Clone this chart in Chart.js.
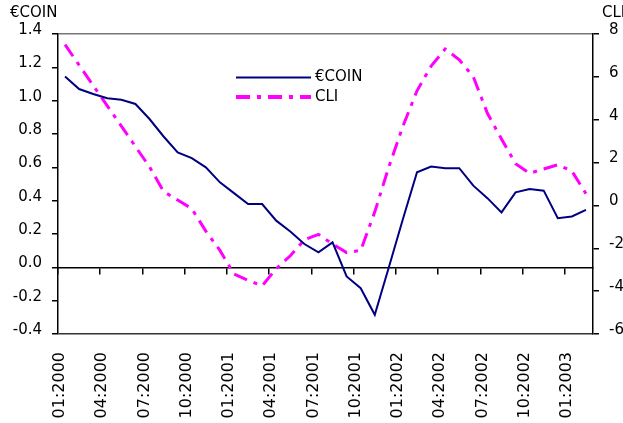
<!DOCTYPE html>
<html>
<head>
<meta charset="utf-8">
<script src="https://cdn.jsdelivr.net/npm/chart.js@4/dist/chart.umd.min.js"></script>
<style>
  body { margin: 0; background: #fff; }
  #wrap { position: relative; width: 623px; height: 423px; }
</style>
</head>
<body>
<div id="wrap"><canvas id="chart"></canvas></div>
<script>
// monthly categories, Jan 2000 - Feb 2003
const months = [
  "01:2000", "02:2000", "03:2000", "04:2000", "05:2000", "06:2000",
  "07:2000", "08:2000", "09:2000", "10:2000", "11:2000", "12:2000",
  "01:2001", "02:2001", "03:2001", "04:2001", "05:2001", "06:2001",
  "07:2001", "08:2001", "09:2001", "10:2001", "11:2001", "12:2001",
  "01:2002", "02:2002", "03:2002", "04:2002", "05:2002", "06:2002",
  "07:2002", "08:2002", "09:2002", "10:2002", "11:2002", "12:2002",
  "01:2003", "02:2003"
];

// €COIN, left axis
const coin = [
  1.145, 1.07, 1.04, 1.015, 1.005, 0.98, 0.89, 0.785, 0.69, 0.655,
  0.6, 0.51, 0.445, 0.38, 0.38, 0.28, 0.215, 0.14, 0.09, 0.15,
  -0.055, -0.125, -0.285, 0.0, 0.29, 0.57, 0.605, 0.595, 0.595, 0.49,
  0.415, 0.33, 0.45, 0.47, 0.46, 0.295, 0.305, 0.345
];

// CLI, right axis
const cli = [
  7.5, 6.55, 5.6, 4.65, 3.7, 2.75, 1.8, 0.65, 0.25, -0.15,
  -1.2, -2.1, -3.2, -3.5, -3.75, -2.95, -2.35, -1.6, -1.35, -1.8,
  -2.2, -2.1, -0.3, 1.8, 3.7, 5.35, 6.5, 7.3, 6.8, 6.0,
  4.3, 3.1, 1.95, 1.5, 1.7, 1.9, 1.6, 0.55
];

const FONT = "'DejaVu Sans', Verdana, sans-serif";
const NAVY = "#000080";
const MAGENTA = "#ff00ff";
const CLI_DASH = [14, 7, 4, 7];

// axis titles + legend drawn inside the plot
const decorations = {
  id: "decorations",
  afterDraw(chart) {
    const ctx = chart.ctx;
    ctx.save();
    ctx.fillStyle = "#000";
    ctx.font = "15px " + FONT;
    ctx.textBaseline = "alphabetic";
    ctx.textAlign = "left";
    ctx.fillText("€COIN", 10, 17);
    ctx.fillText("CLI", 602, 17);

    // legend
    ctx.lineCap = "butt";
    ctx.strokeStyle = NAVY;
    ctx.lineWidth = 2;
    ctx.beginPath();
    ctx.moveTo(236, 77.5);
    ctx.lineTo(311, 77.5);
    ctx.stroke();

    ctx.strokeStyle = MAGENTA;
    ctx.lineWidth = 4;
    ctx.setLineDash(CLI_DASH);
    ctx.beginPath();
    ctx.moveTo(236, 97);
    ctx.lineTo(311, 97);
    ctx.stroke();
    ctx.setLineDash([]);

    ctx.textBaseline = "middle";
    ctx.fillText("€COIN", 315, 77);
    ctx.fillText("CLI", 315, 97);
    ctx.restore();
  }
};

new Chart(document.getElementById("chart"), {
  type: "line",
  data: {
    labels: months,
    datasets: [
      {
        label: "€COIN",
        data: coin,
        yAxisID: "y",
        borderColor: NAVY,
        borderWidth: 2,
        pointRadius: 0,
        tension: 0,
      },
      {
        label: "CLI",
        data: cli,
        yAxisID: "y1",
        borderColor: MAGENTA,
        borderWidth: 3,
        borderDash: CLI_DASH,
        pointRadius: 0,
        tension: 0,
      },
    ],
  },
  options: {
    responsive: true,
    maintainAspectRatio: false,
    animation: false,
    layout: { padding: { top: 34, left: 0, right: 0, bottom: 0 } },
    plugins: {
      legend: { display: false },
      tooltip: { enabled: false },
    },
    scales: {
      x: {
        type: "category",
        position: "bottom",
        offset: true,
        grid: { display: false, drawTicks: false },
        border: { display: false },
        ticks: {
          autoSkip: false,
          minRotation: 90,
          maxRotation: 90,
          padding: 18,
          labelOffset: -5,
          color: "#000",
          font: { family: FONT, size: 16 },
          callback: (v, i) => (i % 3 === 0 ? months[i] : null),
        },
        afterFit: (s) => { s.height = 89; },
      },
      // axis line crossing at €COIN = 0, with quarterly tick marks
      x2: {
        type: "category",
        position: { y: 0 },
        offset: true,
        grid: {
          offset: true,
          drawOnChartArea: false,
          tickLength: 6,
          lineWidth: 1.5,
          color: (c) => (c.index % 3 === 0 ? "#000" : "rgba(0,0,0,0)"),
        },
        border: { display: true, color: "#000", width: 1.5 },
        ticks: { display: false, autoSkip: false },
        afterFit: (s) => { s.height = 0; },
      },
      y: {
        position: "left",
        min: -0.4,
        max: 1.4,
        grid: {
          drawOnChartArea: true,
          tickLength: 6,
          tickColor: "#000",
          lineWidth: 1.5,
          color: (c) => {
            const v = c.tick && c.tick.value;
            if (Math.abs(v - 1.4) < 1e-6) return "#777";
            if (Math.abs(v + 0.4) < 1e-6) return "#333";
            return "rgba(0,0,0,0)";
          },
        },
        border: { display: true, color: "#000", width: 1.5 },
        ticks: {
          stepSize: 0.2,
          padding: 10,
          labelOffset: -4,
          color: "#000",
          font: { family: FONT, size: 15 },
          callback: (v) => (Math.abs(v) < 1e-9 ? "0.0" : Number(v).toFixed(1)),
        },
        afterFit: (s) => { s.width = 58; },
      },
      y1: {
        position: "right",
        min: -6,
        max: 8,
        grid: {
          drawOnChartArea: false,
          tickLength: 6,
          color: "#000",
          lineWidth: 1.5,
        },
        border: { display: true, color: "#000", width: 1.5 },
        ticks: {
          stepSize: 2,
          padding: 10,
          labelOffset: -4,
          color: "#000",
          font: { family: FONT, size: 15 },
        },
        afterFit: (s) => { s.width = 30; },
      },
    },
  },
  plugins: [decorations],
});
</script>
</body>
</html>
